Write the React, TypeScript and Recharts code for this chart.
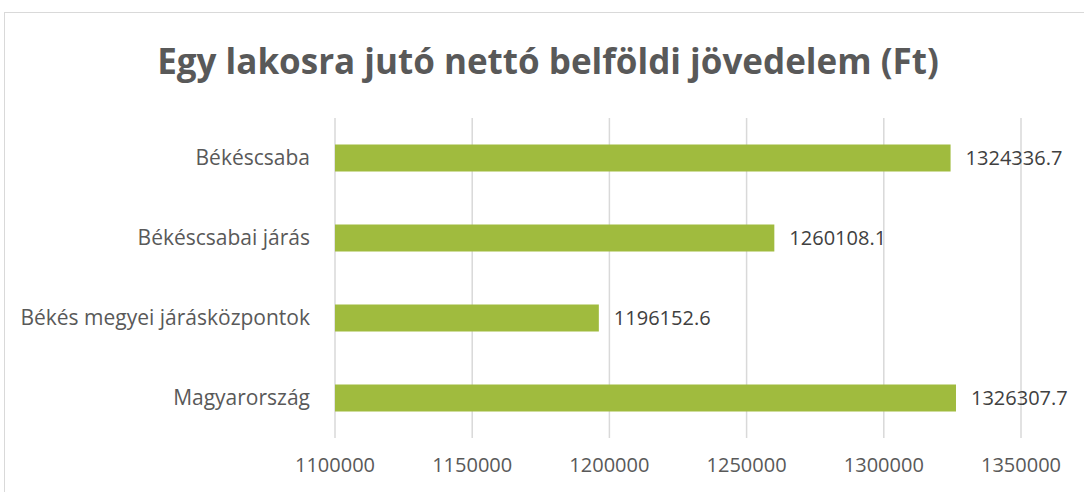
import React from "react"
import { BarChart, Bar, XAxis, YAxis, CartesianGrid, LabelList } from "recharts"

const categories = ["Békéscsaba", "Békéscsabai járás", "Békés megyei járásközpontok", "Magyarország"]
const values = [1324336.7, 1260108.1, 1196152.6, 1326307.7]
const xTicks = [1100000, 1150000, 1200000, 1250000, 1300000, 1350000]

const data = categories.map((name, i) => ({ name, value: values[i] }))

const font = "'Open Sans', 'Noto Sans', sans-serif"

export default function App() {
  return (
    <div
      style={{
        position: "absolute",
        left: 0,
        top: 0,
        width: 1084,
        height: 492,
        overflow: "hidden",
        background: "#fff",
        fontFamily: font,
      }}
    >
      {/* chart area frame */}
      <div
        style={{
          position: "absolute",
          left: 4,
          top: 12,
          width: 1100,
          height: 500,
          border: "1.5px solid #d9d9d9",
        }}
      />
      <div
        style={{
          position: "absolute",
          left: 0,
          top: 33,
          width: 1096,
          textAlign: "center",
          fontSize: 35,
          fontWeight: 700,
          color: "#595959",
          lineHeight: "56px",
        }}
      >
        Egy lakosra jutó nettó belföldi jövedelem (Ft)
      </div>
      <BarChart
        layout="vertical"
        width={1084}
        height={492}
        data={data}
        margin={{ top: 118, right: 63, bottom: 24, left: 0 }}
        barCategoryGap="33%"
        style={{ position: "absolute", left: 0, top: 0 }}
      >
        <CartesianGrid horizontal={false} stroke="#d9d9d9" strokeWidth={1.5} />
        <XAxis
          type="number"
          domain={[1100000, 1350000]}
          ticks={xTicks}
          allowDataOverflow
          axisLine={false}
          tickLine={false}
          tickSize={0}
          tickMargin={20}
          tick={{ fill: "#595959", fontSize: 20, fontFamily: font }}
        />
        <YAxis
          type="category"
          dataKey="name"
          width={335}
          axisLine={false}
          tickLine={false}
          tickSize={0}
          tickMargin={25}
          tick={{ fill: "#595959", fontSize: 21, fontFamily: font }}
        />
        <Bar dataKey="value" fill="#a0bb3e" isAnimationActive={false}>
          <LabelList
            dataKey="value"
            position="right"
            offset={15}
            fill="#404040"
            fontSize={20}
            fontFamily={font}
          />
        </Bar>
      </BarChart>
    </div>
  )
}
